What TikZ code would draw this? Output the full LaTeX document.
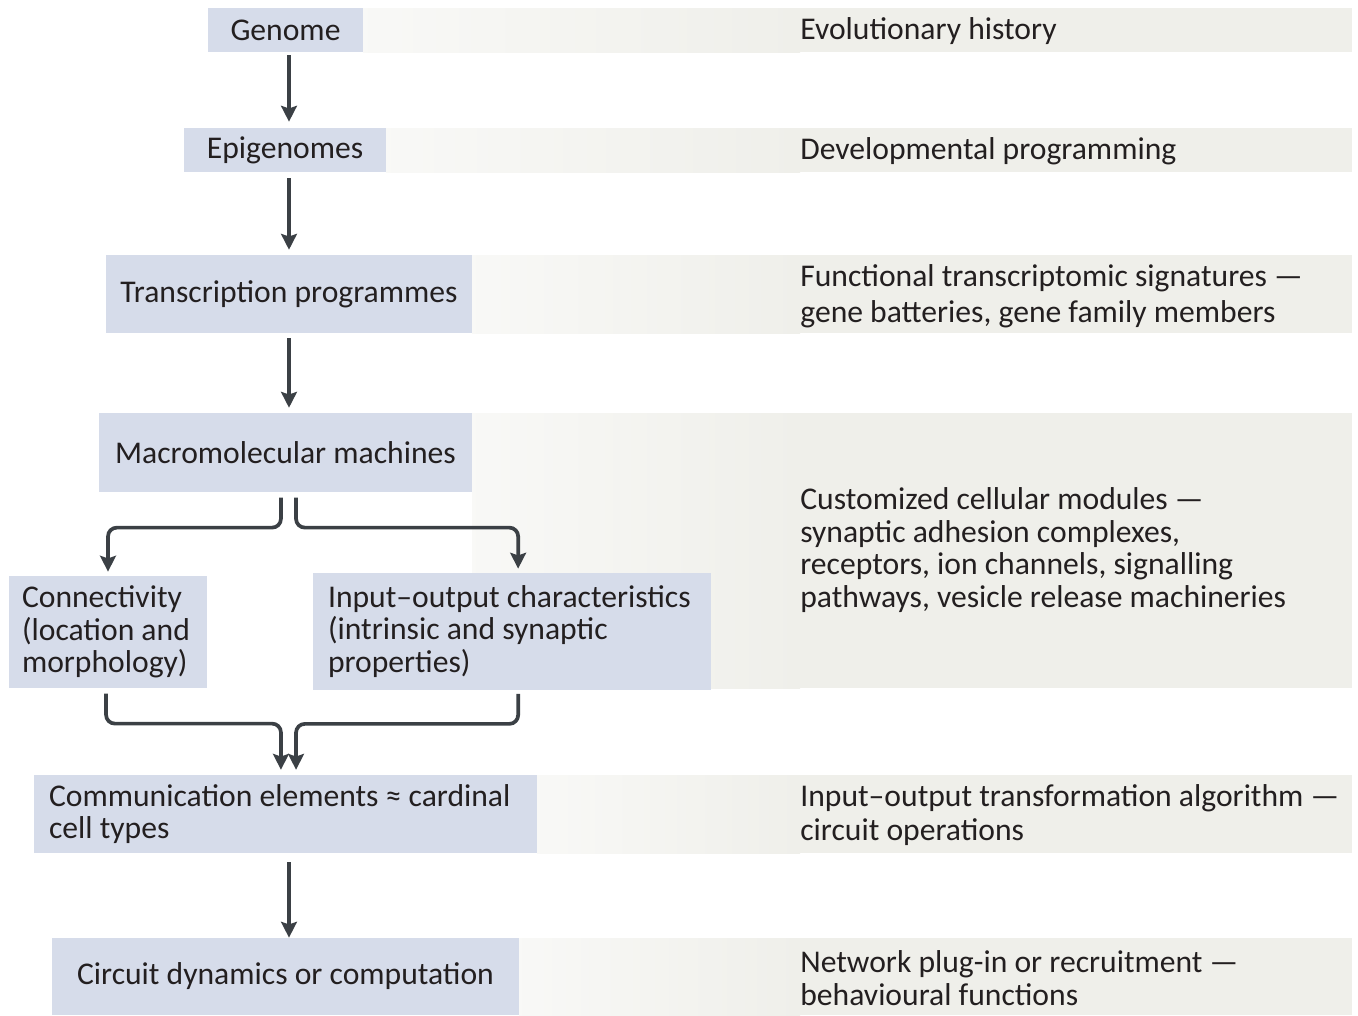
\documentclass[tikz,border=0pt]{standalone}
\usepackage{fontspec}
\setmainfont{Carlito}
\usepackage{tikz}
\usetikzlibrary{arrows.meta}
\definecolor{boxBlue}{HTML}{D6DCEA}
\definecolor{bandGray}{HTML}{EFEFEA}
\definecolor{arrowGray}{HTML}{3B4045}
\definecolor{inkColor}{HTML}{231F20}
\pgfdeclarelayer{background}
\pgfsetlayers{background,main}
\newcommand{\stripe}[3]{%
  \shade[left color=white!60!bandGray, right color=bandGray] (#1,#2) rectangle (800,#3);
  \fill[bandGray] (800,#2) rectangle (1352,#3);}

\begin{document}
\begin{tikzpicture}[x=0.02cm, y=-0.02cm,
    font=\fontsize{18}{18.5}\selectfont, text=inkColor,
    cellbox/.style={fill=boxBlue, inner sep=0pt, align=center},
    leftbox/.style={fill=boxBlue, inner ysep=0pt, align=flush left},
    note/.style={anchor=west, inner sep=0pt, align=flush left},
    flow/.style={draw=arrowGray, line width=2.1pt, rounded corners=5pt,
        -{Stealth[length=9pt, width=9pt, inset=1.5pt]}}]
    \useasboundingbox (0,0) rectangle (1358,1015);
    \coordinate (axis) at (289,0);
    % left column
    \node[cellbox, minimum width=3.1cm, minimum height=0.88cm] (gen) at (285.5,30) {Genome};
    \node[cellbox, minimum width=4.04cm, minimum height=0.88cm] (epi) at (285,150) {Epigenomes};
    \node[cellbox, minimum width=7.32cm, minimum height=1.56cm] (trn) at (289,294) {Transcription programmes};
    \node[cellbox, minimum width=7.46cm, minimum height=1.58cm] (mac) at (285.5,452.5) {Macromolecular machines};
    \node[leftbox, inner xsep=0.26cm, text width=3.44cm, minimum height=2.24cm] (con) at (108,632)
        {Connectivity\\(location and\\morphology)};
    \node[leftbox, inner xsep=0.3cm, text width=7.36cm, minimum height=2.34cm] (iox) at (512,631.5)
        {Input–output characteristics\\(intrinsic and synaptic\\properties)};
    \node[leftbox, inner xsep=0.3cm, text width=9.46cm, minimum height=1.56cm] (com) at (285.5,814)
        {Communication elements ≈ cardinal\\cell types};
    \node[cellbox, minimum width=9.34cm, minimum height=1.54cm] (cir) at (285.5,976.5) {Circuit dynamics or computation};
    % right column
    \node[note] (genN) at (800,31) {Evolutionary history};
    \node[note] (epiN) at (800,151) {Developmental programming};
    \node[note, font=\fontsize{18}{20.5}\selectfont] (trnN) at (800,296)
        {Functional transcriptomic signatures —\\gene batteries, gene family members};
    \node[note] (macN) at (800,550) {Customized cellular modules —\\synaptic adhesion complexes,\\receptors, ion channels, signalling\\pathways, vesicle release machineries};
    \node[note, font=\fontsize{18}{19.3}\selectfont] (comN) at (800,815)
        {Input–output transformation algorithm —\\circuit operations};
    \node[note] (cirN) at (800,978) {Network plug-in or recruitment —\\behavioural functions};
    \begin{pgfonlayer}{background}
        \stripe{363}{8}{52}
        \stripe{386}{128}{172}
        \stripe{472}{255}{333}
        \stripe{472}{413}{688}
        \stripe{537}{775}{853}
        \stripe{519}{938}{1015}
    \end{pgfonlayer}
    % connectors
    \draw[flow, shorten <=1.7pt, shorten >=3.4pt] (gen.south -| axis) -- (epi.north -| axis);
    \draw[flow, shorten <=3.4pt, shorten >=2.8pt] (epi.south -| axis) -- (trn.north -| axis);
    \draw[flow, shorten <=2.8pt, shorten >=2.8pt] (trn.south -| axis) -- (mac.north -| axis);
    \draw[flow] ([xshift=-2.6pt, yshift=-3pt]mac.south) -- ++(0,30) -| ([yshift=2.3pt]con.north);
    \draw[flow] ([xshift=6pt, yshift=-3pt]mac.south) -- ++(0,30) -| ([xshift=3.5pt, yshift=2.3pt]iox.north);
    \draw[flow] ([xshift=-1.1pt, yshift=-3pt]con.south) -- ++(0,30) -| ([xshift=-2.6pt, yshift=2.8pt]com.north);
    \draw[flow] ([xshift=3.5pt, yshift=-2pt]iox.south) -- ++(0,30) -| ([xshift=6pt, yshift=2.8pt]com.north);
    \draw[flow, shorten <=5pt] (com.south -| axis) -- (cir.north -| axis);
\end{tikzpicture}
\end{document}
